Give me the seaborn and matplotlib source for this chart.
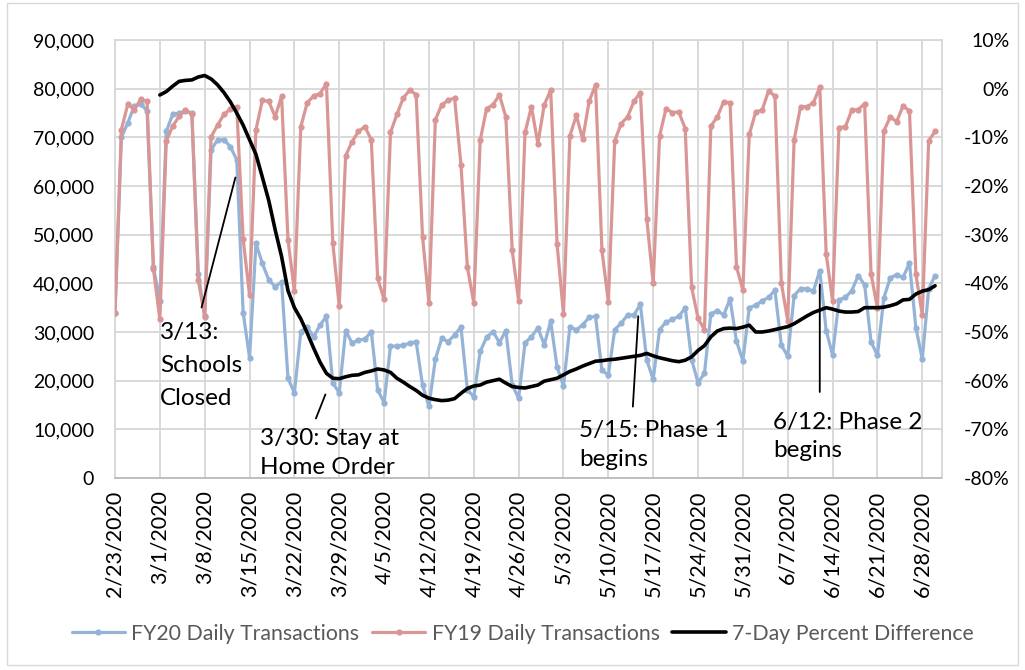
import numpy as np
import pandas as pd
import matplotlib
matplotlib.use("Agg")
import matplotlib.pyplot as plt
import matplotlib.dates as mdates
from matplotlib.ticker import FuncFormatter, MultipleLocator
from matplotlib.patches import Rectangle
from matplotlib.lines import Line2D
import seaborn as sns

# ---------------- data ----------------
start_date = "2020-02-23"
n_days = 129
pct_start = "2020-03-01"

fy20 = [
    34000, 70000, 73000, 76400, 76800, 75500, 43300,
    36400, 71200, 74700, 75000, 75400, 75000, 42000,
    33000, 67400, 69500, 69500, 68100, 65400, 34000,
    24700, 48200, 44100, 40700, 39300, 40300, 20500,
    17500, 30100, 31000, 29000, 31400, 33200, 19500,
    17500, 30300, 27700, 28400, 28500, 30100, 18100,
    15500, 27100, 27100, 27300, 27700, 28000, 19100,
    14700, 24400, 28700, 28000, 29400, 31000, 18100,
    16700, 26000, 28900, 30100, 27800, 30300, 19100,
    16400, 27800, 29000, 30800, 27400, 32200, 22800,
    18900, 31100, 30400, 31500, 33000, 33200, 22100,
    21200, 30500, 31800, 33500, 33500, 35700, 24200,
    20300, 30500, 32000, 32600, 33200, 35000, 24300,
    19600, 21500, 33700, 34400, 33500, 36800, 28100,
    24100, 35000, 35500, 36400, 37100, 38600, 27300,
    25000, 37500, 38900, 38900, 38400, 42600, 30300,
    25300, 36600, 37100, 38500, 41600, 39700, 28000,
    25200, 37000, 41100, 41800, 41200, 44200, 30900,
    24400, 38900, 41600,
]

fy19 = [
    33900, 71600, 76800, 75700, 77800, 77400, 43000,
    32600, 69200, 72300, 74300, 75700, 74700, 40600,
    33300, 70100, 72500, 74700, 75800, 76300, 49100,
    37600, 71600, 77600, 77400, 74200, 78500, 48900,
    38400, 72200, 77100, 78500, 79000, 81000, 48200,
    35300, 66200, 69100, 71200, 72200, 69500, 41000,
    36700, 71000, 74700, 78100, 79700, 78800, 49600,
    36000, 73600, 76700, 77600, 78100, 64300, 43300,
    36000, 69400, 75900, 76700, 78700, 74200, 46800,
    36400, 71000, 76300, 68700, 76700, 79700, 48000,
    33700, 70300, 74500, 69600, 77400, 80800, 46800,
    36200, 69300, 72800, 74200, 77400, 79200, 53200,
    40100, 70300, 75900, 75100, 75200, 71800, 39200,
    32800, 30500, 72300, 74200, 77300, 77100, 43400,
    38600, 70600, 75200, 75600, 79500, 78500, 40100,
    32300, 69500, 76300, 76300, 77100, 80300, 46100,
    36400, 72000, 72200, 75600, 75700, 76900, 42000,
    34900, 71300, 74200, 73200, 76500, 75400, 41900,
    33500, 69300, 71200,
]

# 7-day percent difference (%), from 3/1/2020 to 6/30/2020
pct_diff = [
    -1.3, -0.6, 0.5, 1.5, 1.7, 1.8, 2.4,
    2.7, 2.0, 0.8, -0.8, -2.7, -5.0, -7.5,
    -10.5, -13.5, -18.2, -23.0, -29.0, -34.5, -41.5,
    -45.0, -47.3, -50.2, -53.3, -56.2, -58.5, -59.5,
    -59.6, -59.2, -58.9, -58.8, -58.3, -58.0, -57.6,
    -57.8, -58.3, -59.5, -60.3, -61.2, -62.0, -63.0,
    -63.6, -63.9, -64.1, -64.0, -63.7, -62.6, -61.6,
    -61.1, -60.9, -60.3, -60.0, -59.7, -60.5, -61.2,
    -61.4, -61.5, -61.2, -60.9, -60.1, -59.8, -59.5,
    -58.8, -58.1, -57.6, -57.0, -56.5, -56.0, -55.9,
    -55.7, -55.6, -55.4, -55.2, -55.0, -54.8, -54.4,
    -54.9, -55.3, -55.6, -55.9, -56.1, -55.8, -55.1,
    -53.8, -52.8, -51.0, -49.8, -49.3, -49.2, -49.3,
    -49.0, -48.6, -50.0, -50.0, -49.8, -49.5, -49.2,
    -48.9, -48.3, -47.5, -46.7, -46.0, -45.5, -45.0,
    -45.3, -45.7, -45.9, -45.9, -45.8, -45.0, -45.0,
    -45.0, -44.9, -44.6, -44.2, -43.4, -43.3, -42.2,
    -41.6, -41.3, -40.5,
]

x_tick_labels = ["2/23/2020", "3/1/2020", "3/8/2020", "3/15/2020", "3/22/2020",
                 "3/29/2020", "4/5/2020", "4/12/2020", "4/19/2020", "4/26/2020",
                 "5/3/2020", "5/10/2020", "5/17/2020", "5/24/2020", "5/31/2020",
                 "6/7/2020", "6/14/2020", "6/21/2020", "6/28/2020"]

series_labels = ["FY20 Daily Transactions", "FY19 Daily Transactions",
                 "7-Day Percent Difference"]

annotation_texts = ["3/13:\nSchools\nClosed", "3/30: Stay at\nHome Order",
                    "5/15: Phase 1\nbegins", "6/12: Phase 2\nbegins"]

# ---------------- frame ----------------
dates = pd.date_range(start_date, periods=n_days, freq="D")
pct_dates = pd.date_range(pct_start, periods=len(pct_diff), freq="D")
df = pd.DataFrame({"date": dates, "fy20": fy20, "fy19": fy19})
dfp = pd.DataFrame({"date": pct_dates, "pct": pct_diff})

sns.set_theme(style="white")
plt.rcParams["font.family"] = ["Lato", "DejaVu Sans"]

BLUE = "#95b3d7"
RED = "#d99694"
GRID = "#d9d9d9"

fig = plt.figure(figsize=(10.25, 6.7), dpi=100)
ax = fig.add_axes([115 / 1025, 1 - 478 / 670, (941.5 - 115) / 1025, (478 - 40) / 670])

sns.lineplot(data=df, x="date", y="fy20", ax=ax, color=BLUE, linewidth=2.3,
             marker="o", markersize=4.5, markeredgewidth=0, legend=False, zorder=3)
sns.lineplot(data=df, x="date", y="fy19", ax=ax, color=RED, linewidth=2.3,
             marker="o", markersize=4.5, markeredgewidth=0, legend=False, zorder=4)

ax2 = ax.twinx()
sns.lineplot(data=dfp, x="date", y="pct", ax=ax2, color="black", linewidth=2.6,
             legend=False, zorder=5)

d0 = mdates.date2num(pd.Timestamp(start_date))
ax.set_xlim(d0, d0 + 129)
ax.set_ylim(0, 90000)
ax2.set_ylim(-80, 10)

tick_dates = pd.date_range(start_date, periods=len(x_tick_labels), freq="7D")
ax.set_xticks(mdates.date2num(tick_dates))
ax.set_xticklabels(x_tick_labels, rotation=90, fontsize=15.5)
ax.yaxis.set_major_locator(MultipleLocator(10000))
ax.yaxis.set_major_formatter(FuncFormatter(lambda v, p: f"{v:,.0f}"))
ax2.yaxis.set_major_locator(MultipleLocator(10))
ax2.yaxis.set_major_formatter(FuncFormatter(lambda v, p: f"{v:.0f}%".replace("\u2212", "-")))

ax.tick_params(axis="x", length=0, pad=9, labelcolor="black")
ax.tick_params(axis="y", length=0, pad=15, labelsize=14, labelcolor="black")
ax2.tick_params(axis="y", length=0, pad=49, labelsize=14, labelcolor="black")
for lab in ax2.get_yticklabels():
    lab.set_horizontalalignment("right")

ax.grid(True, color=GRID, linewidth=1.4)
ax.set_axisbelow(True)
ax.set_xlabel("")
ax.set_ylabel("")
ax2.set_ylabel("")
for s in ["left", "top", "right"]:
    ax.spines[s].set_color(GRID)
    ax.spines[s].set_linewidth(1.4)
ax.spines["bottom"].set_color("#bfbfbf")
ax.spines["bottom"].set_linewidth(1.4)
for s in ax2.spines.values():
    s.set_visible(False)

# ---------------- annotations ----------------
ann_lines = [  # (day_from, value_from, day_to, value_to)
    (18.9, 62300, 13.4, 34500),
    (33.0, 17700, 31.2, 11700),
    (81.7, 33800, 80.8, 14100),
    (110.0, 40300, 110.0, 17100),
]
for (a, b, c, d) in ann_lines:
    ax.annotate("", xy=(d0 + c, d), xytext=(d0 + a, b),
                arrowprops=dict(arrowstyle="-", color="black", lw=1.3), zorder=6)

ann_pos = [(7.0, 32100), (22.6, 10300), (72.4, 12000), (102.7, 13600)]
ann_spacing = [1.7, 1.5, 1.5, 1.45]
for txt, (dx, vy), ls in zip(annotation_texts, ann_pos, ann_spacing):
    ax.text(d0 + dx, vy, txt, fontsize=17.5, ha="left", va="top",
            color="black", linespacing=ls, zorder=7)

# ---------------- legend ----------------
handles = [
    Line2D([], [], color=BLUE, lw=2.3, marker="o", markersize=4.5, markeredgewidth=0),
    Line2D([], [], color=RED, lw=2.3, marker="o", markersize=4.5, markeredgewidth=0),
    Line2D([], [], color="black", lw=2.6),
]
fig.legend(handles, series_labels, loc="center", bbox_to_anchor=(0.51, 0.054),
           ncol=3, frameon=False, fontsize=15.3, handlelength=2.5,
           handletextpad=0.3, columnspacing=0.6, labelcolor="#595959")

fig.patches.append(Rectangle((7 / 1025, 5 / 670), 1011 / 1025, 662 / 670,
                             transform=fig.transFigure, fill=False,
                             edgecolor="#d9d9d9", linewidth=1.0))

fig.savefig("out.png", dpi=100)
